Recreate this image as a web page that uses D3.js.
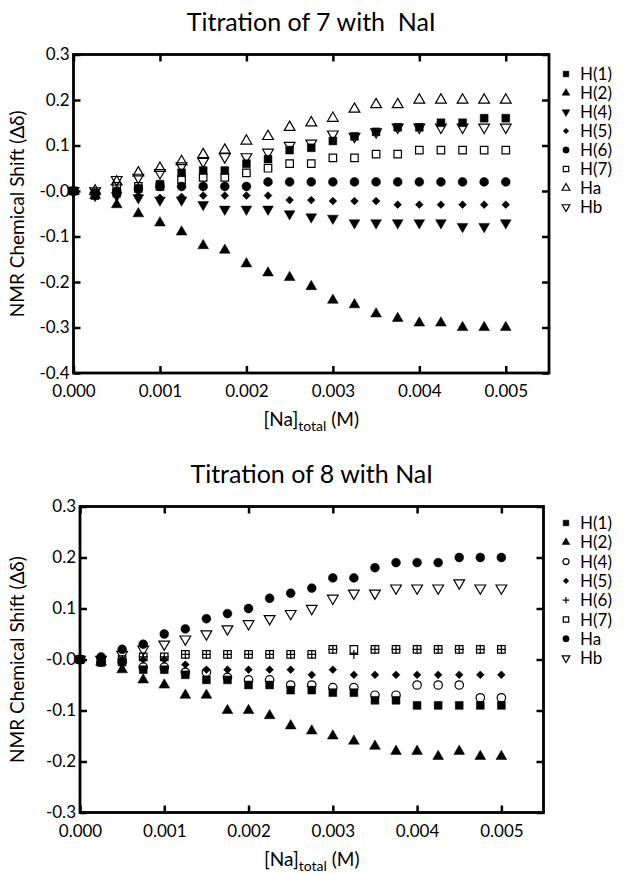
<!DOCTYPE html>
<html>
<head>
<meta charset="utf-8">
<script src="https://cdn.jsdelivr.net/npm/d3@7"></script>
<style>
  body { margin: 0; background: #fff; }
  svg { display: block; font-family: Lato, 'Noto Sans', sans-serif; }
</style>
</head>
<body>
<script>
// [Na]total (M) at each addition
const naTotal = [0, 0.00025, 0.0005, 0.00075, 0.001, 0.00125, 0.0015, 0.00175, 0.002, 0.00225,
  0.0025, 0.00275, 0.003, 0.00325, 0.0035, 0.00375, 0.004, 0.00425, 0.0045, 0.00475, 0.005];

const xTicks = [0, 0.001, 0.002, 0.003, 0.004, 0.005];
const yTicks7 = [0.3, 0.2, 0.1, 0, -0.1, -0.2, -0.3, -0.4];
const yTicks8 = [0.3, 0.2, 0.1, 0, -0.1, -0.2, -0.3];
const protonNames = ['H(1)', 'H(2)', 'H(4)', 'H(5)', 'H(6)', 'H(7)', 'Ha', 'Hb'];

// titration of 7
const t7H1 = [0, -0.01, -0.005, 0.005, 0.015, 0.04, 0.045, 0.045, 0.06, 0.07, 0.09, 0.095, 0.11, 0.12, 0.13, 0.14, 0.14, 0.15, 0.15, 0.16, 0.16];
const t7H2 = [0, -0.01, -0.03, -0.05, -0.07, -0.09, -0.12, -0.13, -0.16, -0.18, -0.19, -0.21, -0.24, -0.25, -0.27, -0.28, -0.29, -0.29, -0.3, -0.3, -0.3];
const t7H4 = [0, -0.01, -0.01, -0.015, -0.02, -0.02, -0.03, -0.04, -0.04, -0.04, -0.05, -0.057, -0.06, -0.07, -0.07, -0.07, -0.07, -0.07, -0.078, -0.078, -0.07];
const t7H5 = [0, -0.01, -0.01, -0.01, -0.015, -0.013, -0.01, -0.01, -0.01, -0.01, -0.02, -0.02, -0.022, -0.022, -0.022, -0.03, -0.03, -0.03, -0.03, -0.03, -0.03];
const t7H6 = [0, -0.005, 0, 0.005, 0.01, 0.01, 0.01, 0.01, 0.01, 0.02, 0.02, 0.02, 0.02, 0.02, 0.02, 0.02, 0.02, 0.02, 0.02, 0.02, 0.02];
const t7H7 = [0, -0.005, 0.01, 0.01, 0.01, 0.025, 0.03, 0.03, 0.04, 0.05, 0.06, 0.06, 0.073, 0.073, 0.081, 0.081, 0.09, 0.09, 0.09, 0.09, 0.09];
const t7Ha = [0, 0, 0.02, 0.04, 0.05, 0.065, 0.08, 0.09, 0.11, 0.12, 0.14, 0.15, 0.16, 0.18, 0.19, 0.19, 0.2, 0.2, 0.2, 0.2, 0.2];
const t7Hb = [0, 0, 0.025, 0.03, 0.04, 0.055, 0.065, 0.075, 0.075, 0.085, 0.1, 0.105, 0.125, 0.12, 0.13, 0.14, 0.14, 0.14, 0.14, 0.14, 0.14];

// titration of 8
const t8H1 = [0, -0.005, -0.005, -0.02, -0.02, -0.03, -0.04, -0.04, -0.05, -0.05, -0.06, -0.06, -0.065, -0.065, -0.08, -0.08, -0.09, -0.09, -0.09, -0.09, -0.09];
const t8H2 = [0, -0.005, -0.02, -0.04, -0.05, -0.07, -0.07, -0.1, -0.1, -0.11, -0.13, -0.14, -0.15, -0.16, -0.17, -0.18, -0.18, -0.19, -0.18, -0.19, -0.19];
const t8H4 = [0, -0.005, -0.005, -0.015, -0.015, -0.025, -0.025, -0.035, -0.04, -0.04, -0.05, -0.05, -0.055, -0.055, -0.07, -0.07, -0.05, -0.05, -0.05, -0.075, -0.075];
const t8H5 = [0, 0, 0, 0, 0, -0.01, -0.02, -0.02, -0.02, -0.02, -0.02, -0.03, -0.02, -0.03, -0.03, -0.03, -0.03, -0.03, -0.03, -0.03, -0.03];
const t8H6 = [0, -0.005, 0, 0.005, 0.005, 0.01, 0.01, 0.01, 0.01, 0.01, 0.01, 0.01, 0.02, 0.01, 0.02, 0.02, 0.02, 0.02, 0.02, 0.02, 0.02];
const t8H7 = [0, -0.005, 0, 0.005, 0.005, 0.01, 0.01, 0.01, 0.01, 0.01, 0.01, 0.01, 0.02, 0.02, 0.02, 0.02, 0.02, 0.02, 0.02, 0.02, 0.02];
const t8Ha = [0, 0.005, 0.02, 0.03, 0.05, 0.06, 0.08, 0.09, 0.1, 0.12, 0.13, 0.14, 0.16, 0.16, 0.18, 0.19, 0.19, 0.19, 0.2, 0.2, 0.2];
const t8Hb = [0, 0, 0.01, 0.02, 0.03, 0.04, 0.05, 0.06, 0.07, 0.08, 0.09, 0.1, 0.12, 0.13, 0.13, 0.14, 0.14, 0.14, 0.15, 0.14, 0.14];

const symbolDefs = {
  sqFill: { type: d3.symbolSquare, size: 62, fill: true },
  sqOpen: { type: d3.symbolSquare, size: 56, fill: false },
  triUpFill: { type: d3.symbolTriangle, size: 50, fill: true },
  triUpOpen: { type: d3.symbolTriangle, size: 50, fill: false },
  triDownFill: { type: d3.symbolTriangle, size: 50, fill: true, rot: 180 },
  triDownOpen: { type: d3.symbolTriangle, size: 50, fill: false, rot: 180 },
  diamond: { type: d3.symbolSquare, size: 30, fill: true, rot: 45 },
  circFill: { type: d3.symbolCircle, size: 62, fill: true },
  circOpen: { type: d3.symbolCircle, size: 56, fill: false },
  plus: { type: null, fill: false },
};

function symbolPath(kind, k) {
  const s = symbolDefs[kind];
  if (!s.type) {
    const r = 4.5 * k;
    return `M${-r},0H${r}M0,${-r}V${r}`;
  }
  return d3.symbol(s.type, s.size * k * k)();
}

function addMarker(g, kind, cx, cy, k) {
  const s = symbolDefs[kind];
  g.append('path')
    .attr('d', symbolPath(kind, k))
    .attr('transform', `translate(${cx},${cy})${s.rot ? ` rotate(${s.rot})` : ''}`)
    .attr('fill', s.fill ? '#000' : 'none')
    .attr('stroke', '#000')
    .attr('stroke-width', s.fill ? 0.5 : 1.2);
}

const svg = d3.select('body').append('svg')
  .attr('width', 635)
  .attr('height', 874);

const yFmt = d => (d <= 0 ? '-' : '') + Math.abs(d).toFixed(1);

function drawPanel(p) {
  const x = d3.scaleLinear().domain([0, 0.0055]).range([p.left, p.right]);
  const y = d3.scaleLinear().domain(p.yDomain).range([p.bottom, p.top]);
  const g = svg.append('g');

  g.append('text')
    .attr('x', (p.left + p.right) / 2)
    .attr('y', p.titleY)
    .attr('text-anchor', 'middle')
    .style('white-space', 'pre')
    .style('font-size', '25px')
    .text(p.title);

  // ticks on all four sides, pointing in
  const bottomAxis = g.append('g')
    .attr('transform', `translate(0,${p.bottom})`)
    .call(d3.axisBottom(x).tickValues(xTicks).tickSizeInner(-7).tickSizeOuter(0)
      .tickPadding(12).tickFormat(d3.format('.3f')));
  const topAxis = g.append('g')
    .attr('transform', `translate(0,${p.top})`)
    .call(d3.axisTop(x).tickValues(xTicks).tickSizeInner(-7).tickSizeOuter(0).tickFormat(''));
  const leftAxis = g.append('g')
    .attr('transform', `translate(${p.left},0)`)
    .call(d3.axisLeft(y).tickValues(p.yTicks).tickSizeInner(-7).tickSizeOuter(0)
      .tickPadding(4).tickFormat(yFmt));
  const rightAxis = g.append('g')
    .attr('transform', `translate(${p.right},0)`)
    .call(d3.axisRight(y).tickValues(p.yTicks).tickSizeInner(-7).tickSizeOuter(0).tickFormat(''));

  [bottomAxis, topAxis, leftAxis, rightAxis].forEach((a) => {
    a.select('.domain').remove();
    a.selectAll('line').attr('stroke', '#000').attr('stroke-width', 2.5);
    a.selectAll('text').attr('fill', '#000').style('font-size', '17px').style('font-family', 'Lato, sans-serif');
  });

  g.append('rect')
    .attr('x', p.left)
    .attr('y', p.top)
    .attr('width', p.right - p.left)
    .attr('height', p.bottom - p.top)
    .attr('fill', 'none')
    .attr('stroke', '#000')
    .attr('stroke-width', 2.8);

  // points
  const pts = g.append('g');
  p.series.forEach((s) => {
    s.values.forEach((v, i) => {
      addMarker(pts, s.kind, x(naTotal[i]), y(v), 1);
    });
  });

  // legend
  const leg = g.append('g');
  p.series.forEach((s, i) => {
    const ly = p.legendY + i * p.legendStep;
    addMarker(leg, s.kind, p.legendX, ly, 0.72);
    leg.append('text')
      .attr('x', p.legendX + 14)
      .attr('y', ly)
      .attr('dy', '0.36em')
      .style('font-size', '17px')
      .text(s.name);
  });

  // axis titles
  g.append('text')
    .attr('transform', `translate(24,${(p.top + p.bottom) / 2}) rotate(-90)`)
    .attr('text-anchor', 'middle')
    .style('font-size', '19px')
    .text('NMR Chemical Shift (Δδ)');

  const xt = g.append('text')
    .attr('x', (p.left + p.right) / 2)
    .attr('y', p.bottom + 53)
    .attr('text-anchor', 'middle')
    .style('font-size', '19px');
  xt.append('tspan').text('[Na]');
  xt.append('tspan').attr('dy', 5).style('font-size', '14px').text('total');
  xt.append('tspan').attr('dy', -5).text(' (M)');
}

drawPanel({
  title: 'Titration of 7 with  NaI',
  titleY: 31,
  left: 73.5, right: 549, top: 54.5, bottom: 373,
  yDomain: [-0.4, 0.3],
  yTicks: yTicks7,
  legendX: 566, legendY: 74, legendStep: 19,
  series: [
    { name: protonNames[0], kind: 'sqFill', values: t7H1 },
    { name: protonNames[1], kind: 'triUpFill', values: t7H2 },
    { name: protonNames[2], kind: 'triDownFill', values: t7H4 },
    { name: protonNames[3], kind: 'diamond', values: t7H5 },
    { name: protonNames[4], kind: 'circFill', values: t7H6 },
    { name: protonNames[5], kind: 'sqOpen', values: t7H7 },
    { name: protonNames[6], kind: 'triUpOpen', values: t7Ha },
    { name: protonNames[7], kind: 'triDownOpen', values: t7Hb },
  ],
});

drawPanel({
  title: 'Titration of 8 with NaI',
  titleY: 483,
  left: 80, right: 543.5, top: 506.5, bottom: 812.5,
  yDomain: [-0.3, 0.3],
  yTicks: yTicks8,
  legendX: 566, legendY: 523, legendStep: 19.3,
  series: [
    { name: protonNames[0], kind: 'sqFill', values: t8H1 },
    { name: protonNames[1], kind: 'triUpFill', values: t8H2 },
    { name: protonNames[2], kind: 'circOpen', values: t8H4 },
    { name: protonNames[3], kind: 'diamond', values: t8H5 },
    { name: protonNames[4], kind: 'plus', values: t8H6 },
    { name: protonNames[5], kind: 'sqOpen', values: t8H7 },
    { name: protonNames[6], kind: 'circFill', values: t8Ha },
    { name: protonNames[7], kind: 'triDownOpen', values: t8Hb },
  ],
});
</script>
</body>
</html>
